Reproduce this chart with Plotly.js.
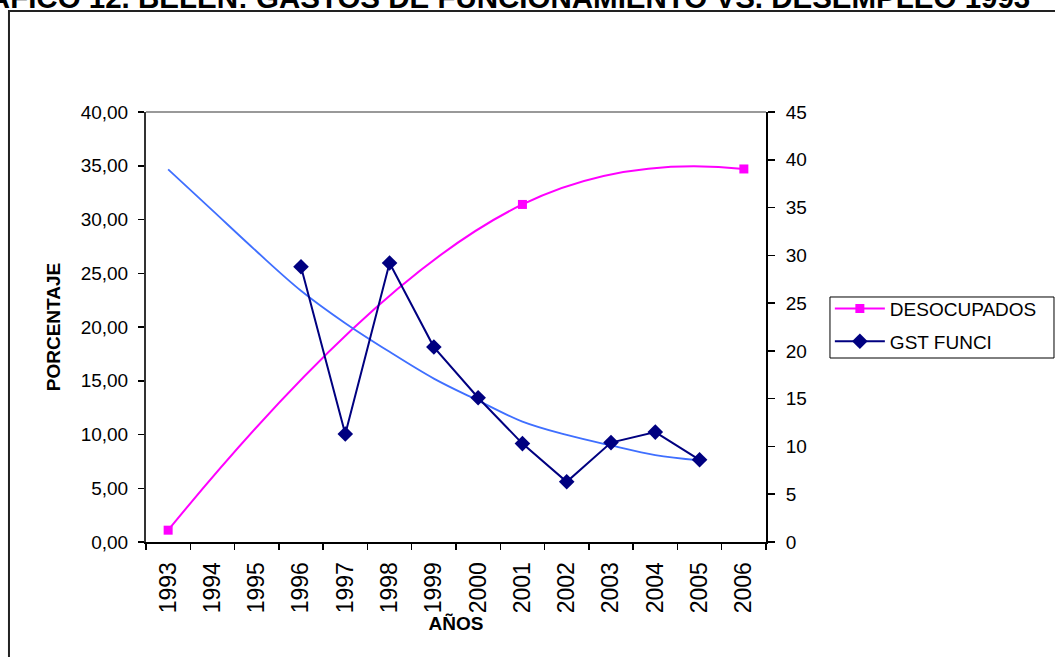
<!DOCTYPE html>
<html><head><meta charset="utf-8">
<script src="https://cdn.plot.ly/plotly-3.0.1.min.js"></script>
<style>html,body{margin:0;padding:0;background:#fff}#chart{width:1055px;height:657px}</style>
</head><body><div id="chart"></div>
<script>
const years = ['1993','1994','1995','1996','1997','1998','1999','2000','2001','2002','2003','2004','2005','2006'];
const desocupados = [1.1, null, null, null, null, null, null, null, 31.4, null, null, null, null, 34.7];
const gstFunci = [null, null, null, 28.8, 11.3, 29.2, 20.4, 15.1, 10.3, 6.3, 10.4, 11.5, 8.6, null];
const tendencia = [39.0, 34.7, 30.4, 26.3, 22.9, 19.9, 17.1, 14.8, 12.6, 11.2, 10.1, 9.1, 8.55, null];
const leftRange = [0, 40];
const rightRange = [0, 45];

const FONT = 'Liberation Sans, Arial, sans-serif';
const boundaries = [];
for (let i = 0; i <= years.length; i++) boundaries.push(i - 0.5);

const traces = [
  {x: years, y: desocupados, name: 'DESOCUPADOS', type: 'scatter', mode: 'lines+markers',
   connectgaps: true, line: {color: '#FF00FF', width: 2, shape: 'spline', smoothing: 1.3},
   marker: {symbol: 'square', size: 9, color: '#FF00FF'}, xaxis: 'x', yaxis: 'y',
   legendgroup: 'a', hoverinfo: 'x+y'},
  {x: years, y: tendencia, name: 'tendencia', type: 'scatter', mode: 'lines', showlegend: false,
   line: {color: '#3F6FFF', width: 1.8, shape: 'spline'}, xaxis: 'x', yaxis: 'y2', hoverinfo: 'x+y'},
  {x: years, y: gstFunci, name: 'GST FUNCI', type: 'scatter', mode: 'lines+markers',
   line: {color: '#000080', width: 2}, marker: {symbol: 'diamond', size: 12, color: '#000080'},
   xaxis: 'x', yaxis: 'y2', legendgroup: 'b', hoverinfo: 'x+y'}
];

const layout = {
  width: 1055, height: 657,
  margin: {l: 146, r: 289, t: 112, b: 115, pad: 0},
  paper_bgcolor: '#fff', plot_bgcolor: '#fff',
  separators: ',.',
  font: {family: FONT, color: '#000', size: 18},
  showlegend: true,
  title: {text: 'GRAFICO 12. BELEN: GASTOS DE FUNCIONAMIENTO VS. DESEMPLEO 1993',
          font: {family: FONT, size: 29.5, weight: 'bold', color: '#000'},
          x: 0.462, xanchor: 'center', xref: 'container', y: 1, yref: 'paper', yanchor: 'bottom',
          pad: {b: 104}},
  xaxis: {type: 'category', categoryorder: 'array', categoryarray: years, range: [-0.5, years.length - 0.5],
          tickson: 'boundaries', ticks: 'outside', ticklen: 6, tickwidth: 1.5, tickcolor: '#000',
          showline: true, linecolor: '#000', linewidth: 2, showgrid: false, zeroline: false,
          tickangle: -90, tickfont: {size: 23, family: FONT}, ticklabelstandoff: 9,
          title: {text: 'AÑOS', font: {size: 19, weight: 'bold', family: FONT}, standoff: 1}},
  xaxis2: {type: 'linear', overlaying: 'x', anchor: 'y', side: 'bottom', range: [-0.5, years.length - 0.5],
           tickmode: 'array', tickvals: boundaries, ticks: 'inside', ticklen: 6, tickwidth: 1.5, tickcolor: '#000',
           showticklabels: false, showline: false, showgrid: false, zeroline: false},
  yaxis: {range: leftRange, dtick: 5, tickformat: '.2f', ticks: 'outside', ticklen: 6, tickwidth: 1.5, tickcolor: '#000',
          showline: true, linecolor: '#333', linewidth: 2, showgrid: false, zeroline: false,
          tickfont: {size: 19, family: FONT}, ticklabelstandoff: 6,
          title: {text: 'PORCENTAJE', font: {size: 19, weight: 'bold', family: FONT}, standoff: 15}},
  yaxis2: {range: rightRange, dtick: 5, overlaying: 'y', side: 'right', anchor: 'x',
           ticks: 'outside', ticklen: 7, tickwidth: 1.5, tickcolor: '#000',
           showline: true, linecolor: '#000', linewidth: 2, showgrid: false, zeroline: false,
           tickfont: {size: 19, family: FONT}, ticklabelstandoff: 7},
  yaxis3: {range: leftRange, dtick: 5, overlaying: 'y', side: 'left', anchor: 'x',
           ticks: 'inside', ticklen: 7, tickwidth: 1.5, tickcolor: '#000',
           showticklabels: false, showline: false, showgrid: false, zeroline: false},
  yaxis4: {range: rightRange, dtick: 5, overlaying: 'y', side: 'right', anchor: 'x',
           ticks: 'inside', ticklen: 7, tickwidth: 1.5, tickcolor: '#000',
           showticklabels: false, showline: false, showgrid: false, zeroline: false},
  legend: {x: 1.103, y: 0.5867, xanchor: 'left', yanchor: 'top', xref: 'paper', yref: 'paper',
           bgcolor: 'rgba(0,0,0,0)', borderwidth: 0, traceorder: 'grouped', tracegroupgap: 5,
           font: {size: 19, family: FONT, color: '#000'}, itemwidth: 50},
  shapes: [
    {type: 'line', xref: 'paper', yref: 'paper', x0: 0, x1: 1, y0: 1, y1: 1, line: {color: '#999', width: 2}, layer: 'below'},
    {type: 'rect', xref: 'paper', yref: 'paper', x0: -0.221, x1: 1.6, y0: -0.6, y1: 1.235, line: {color: '#222', width: 2}, layer: 'below'},
    {type: 'rect', xref: 'paper', yref: 'paper', x0: 1.1032, x1: 1.4645, y0: 0.4279, y1: 0.5698, line: {color: '#000', width: 1}, layer: 'below'}
  ]
};

Plotly.newPlot('chart', traces, layout, {staticPlot: true, displayModeBar: false});
</script></body></html>
